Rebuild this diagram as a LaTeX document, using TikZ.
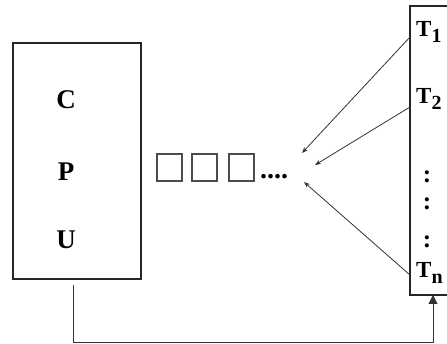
\documentclass[tikz,border=0pt]{standalone}
\usepackage{fontspec}
\setmainfont{Liberation Serif}
\usetikzlibrary{arrows.meta}
\begin{document}
\begin{tikzpicture}[x=1pt,y=-1pt,
  frame/.style={draw=black!85,line width=1.8pt},
  slot/.style={draw=black!70,line width=1.3pt,minimum width=25pt,minimum height=27pt,inner sep=0pt},
  link/.style={draw=black!80,line width=0.8pt},
  tip/.style={-{Stealth[length=6pt,width=4.5pt]}},
  lbl/.style={font=\fontsize{27}{27}\selectfont\bfseries,inner sep=0pt},
  cln/.style={font=\fontsize{25}{25}\selectfont\bfseries,inner sep=0pt},
  tlbl/.style={font=\fontsize{23}{23}\selectfont\bfseries,inner sep=0pt,anchor=base west}]
\useasboundingbox (0,0) rectangle (447,344);
\fill[white] (0,0) rectangle (447,344);

% processor box
\node[frame,minimum width=128pt,minimum height=236pt,inner sep=0pt,anchor=north west] (cpu) at (12,42) {};
\node[lbl] (c) at (66,100) {C};
\node[lbl] (p) at (66,172) {P};
\node[lbl] (u) at (66,240) {U};

% task column (open on the right)
\coordinate (tnw) at (410,6);
\coordinate (tsw) at (410,295);
\draw[frame] (450,6) -- (tnw) -- (tsw) -- (450,295);
\node[tlbl] (t1) at (416,37) {T\raisebox{-6pt}{\fontsize{20}{20}\selectfont 1}};
\node[tlbl] (t2) at (416,104) {T\raisebox{-6pt}{\fontsize{20}{20}\selectfont 2}};
\node[tlbl] (tn) at (416,278) {T\raisebox{-6pt}{\fontsize{20}{20}\selectfont n}};
\node[cln] (d1) at (427,177) {:};
\node[cln] (d2) at (427,204) {:};
\node[cln] (d3) at (427,242) {:};

% queue
\node[slot] (q1) at (169.5,167.5) {};
\node[slot] (q2) at (204.5,167.5) {};
\node[slot] (q3) at (241.5,167.5) {};
\node[inner sep=0pt,anchor=base west,font=\fontsize{28}{28}\selectfont\bfseries] (qd) at (260,179) {....};

% requests from the tasks
\coordinate (s1) at (410,37);
\coordinate (s2) at (410,107);
\coordinate (sn) at (410,275);
\coordinate (e1) at (302,153);
\coordinate (e2) at (315,165);
\coordinate (en) at (304,182);
\draw[link,tip] (s1) -- (e1);
\draw[link,tip] (s2) -- (e2);
\draw[link,tip] (sn) -- (en);

% feedback from the processor to the task column
\coordinate (fb) at (73,285);
\coordinate (fc) at (73,342);
\coordinate (fd) at (433,342);
\coordinate (fe) at (433,295);
\draw[link,-{Triangle[length=9pt,width=9pt]}] (fb) -- (fc) -- (fd) -- (fe);
\end{tikzpicture}
\end{document}
